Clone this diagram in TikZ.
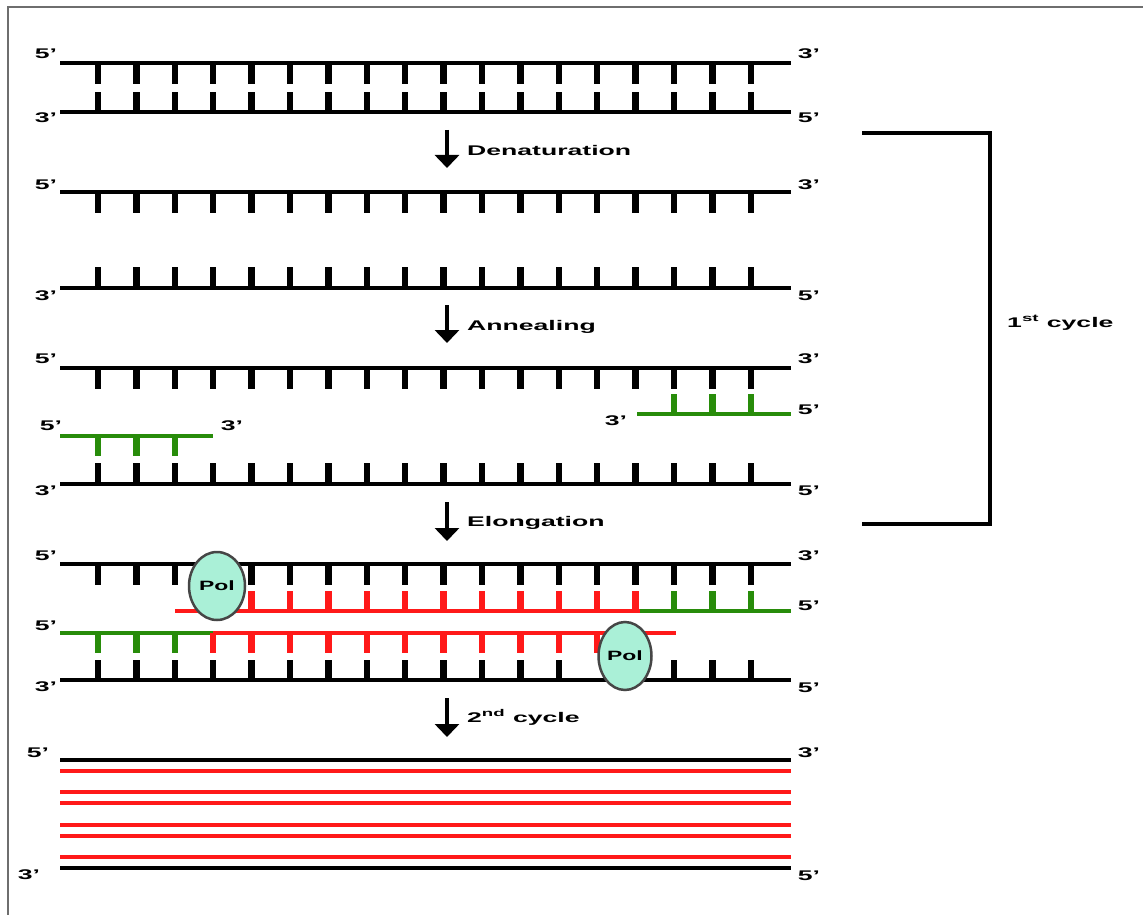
\documentclass[tikz,border=0pt]{standalone}
\usepackage{fontspec}
\setmainfont{Liberation Sans}
\usetikzlibrary{arrows.meta,shapes.geometric}
\definecolor{pgreen}{RGB}{40,140,10}
\definecolor{pred}{RGB}{255,25,25}
\definecolor{polfill}{RGB}{170,240,215}
\definecolor{polline}{RGB}{70,70,70}
\definecolor{framegray}{RGB}{110,110,110}
\newcommand\stxt[1]{\scalebox{1.9}[1]{\bfseries #1}}
\newcommand\ptxt[1]{\scalebox{1.7}[1]{\bfseries #1}}
\begin{document}
\begin{tikzpicture}[x=1pt,y=-1pt,
  strand/.style={line width=4pt},
  tk/.style={line width=6.5pt},
  lbl/.style={font=\fontsize{14}{16}\selectfont, inner sep=0pt, anchor=base},
  steplbl/.style={lbl, anchor=base west},
  arr/.style={line width=3.2pt, -{Triangle[width=24pt,length=13pt]}},
  pol/.style={ellipse, draw=polline, line width=2.5pt, fill=polfill,
    minimum width=56pt, minimum height=68pt, inner sep=0pt,
    font=\fontsize{13.5}{15}\selectfont}
]
\useasboundingbox (0,0) rectangle (1143,915);
% frame
\draw[framegray, line width=1.5pt] (8,915) -- (8,7) -- (1143,7);

% ---------- Row 1: double strand ----------
\draw[strand] (60,63) -- (791,63);
\draw[strand] (60,112) -- (791,112);
\foreach \k in {0,...,17}{
  \draw[tk] ({98+38.4*\k},63) -- ++(0,21);
  \draw[tk] ({98+38.4*\k},112) -- ++(0,-20);
}
\node[lbl] (r1a) at (46,59) {\stxt{5'}};
\node[lbl] (r1b) at (46,123) {\stxt{3'}};
\node[lbl] (r1c) at (809,59) {\stxt{3'}};
\node[lbl] (r1d) at (809,123) {\stxt{5'}};

\coordinate (a1s) at (447,130); \coordinate (a1e) at (447,168);
\draw[arr] (a1s) -- (a1e);
\node[steplbl] (den) at (467,156) {\stxt{Denaturation}};

% ---------- Row 2: separated ----------
\draw[strand] (60,192) -- (791,192);
\draw[strand] (60,288) -- (791,288);
\foreach \k in {0,...,17}{
  \draw[tk] ({98+38.4*\k},192) -- ++(0,21);
  \draw[tk] ({98+38.4*\k},288) -- ++(0,-21);
}
\node[lbl] (r2a) at (46,189) {\stxt{5'}};
\node[lbl] (r2b) at (46,300) {\stxt{3'}};
\node[lbl] (r2c) at (809,189) {\stxt{3'}};
\node[lbl] (r2d) at (809,300) {\stxt{5'}};

\coordinate (a2s) at (447,305); \coordinate (a2e) at (447,343);
\draw[arr] (a2s) -- (a2e);
\node[steplbl] (ann) at (467,330) {\stxt{Annealing}};

% ---------- Row 3: annealing ----------
\draw[strand] (60,368) -- (791,368);
\foreach \k in {0,...,17}{
  \draw[tk] ({98+38.4*\k},368) -- ++(0,21);
  \draw[tk] ({98+38.4*\k},484) -- ++(0,-21);
}
\draw[strand] (60,484) -- (791,484);
% right primer
\draw[strand,pgreen] (637,414) -- (791,414);
\foreach \k in {15,16,17}{ \draw[tk,pgreen] ({98+38.4*\k},414) -- ++(0,-20); }
% left primer
\draw[strand,pgreen] (60,436) -- (213,436);
\foreach \k in {0,1,2}{ \draw[tk,pgreen] ({98+38.4*\k},436) -- ++(0,20); }
\node[lbl] (r3a) at (46,363) {\stxt{5'}};
\node[lbl] (r3c) at (809,363) {\stxt{3'}};
\node[lbl] (r3e) at (616,425) {\stxt{3'}};
\node[lbl] (r3f) at (809,414) {\stxt{5'}};
\node[lbl] (r3g) at (51,430) {\stxt{5'}};
\node[lbl] (r3h) at (232,430) {\stxt{3'}};
\node[lbl] (r3b) at (46,495) {\stxt{3'}};
\node[lbl] (r3d) at (809,495) {\stxt{5'}};

\coordinate (a3s) at (447,502); \coordinate (a3e) at (447,541);
\draw[arr] (a3s) -- (a3e);
\node[steplbl] (elo) at (467,526) {\stxt{Elongation}};

% bracket
\coordinate (bt) at (862,133); \coordinate (bb) at (862,524);
\draw[line width=3.5pt] (bt) -| (990,524) -- (bb);
\node[steplbl] (cyc1) at (1007,327) {\stxt{1\textsuperscript{st} cycle}};

% ---------- Row 4: elongation ----------
\draw[strand] (60,564) -- (791,564);
\foreach \k in {0,...,17}{ \draw[tk] ({98+38.4*\k},564) -- ++(0,21); }
% upper new strand
\draw[strand,pred] (175,611) -- (640,611);
\foreach \k in {4,...,14}{ \draw[tk,pred] ({98+38.4*\k},611) -- ++(0,-20); }
\draw[strand,pgreen] (640,611) -- (791,611);
\foreach \k in {15,16,17}{ \draw[tk,pgreen] ({98+38.4*\k},611) -- ++(0,-20); }
% lower new strand
\draw[strand,pgreen] (60,633) -- (213,633);
\foreach \k in {0,1,2}{ \draw[tk,pgreen] ({98+38.4*\k},633) -- ++(0,20); }
\draw[strand,pred] (213,633) -- (676,633);
\foreach \k in {3,...,14}{ \draw[tk,pred] ({98+38.4*\k},633) -- ++(0,20); }
% bottom template
\draw[strand] (60,680) -- (791,680);
\foreach \k in {0,...,12,15,16,17}{ \draw[tk] ({98+38.4*\k},680) -- ++(0,-20); }
\node[pol] (pol1) at (217,586) {\ptxt{Pol}};
\node[pol, minimum width=53pt] (pol2) at (625,656) {\ptxt{Pol}};
\node[lbl] (r4a) at (46,560) {\stxt{5'}};
\node[lbl] (r4c) at (809,560) {\stxt{3'}};
\node[lbl] (r4f) at (809,610) {\stxt{5'}};
\node[lbl] (r4g) at (46,630) {\stxt{5'}};
\node[lbl] (r4b) at (46,691) {\stxt{3'}};
\node[lbl] (r4d) at (809,692) {\stxt{5'}};

\coordinate (a4s) at (447,698); \coordinate (a4e) at (447,737);
\draw[arr] (a4s) -- (a4e);
\node[steplbl] (cyc2) at (467,722) {\stxt{2\textsuperscript{nd} cycle}};

% ---------- Row 5: products ----------
\draw[strand] (60,760) -- (791,760);
\foreach \y in {771,792,803,825,836,857}{ \draw[strand,pred] (60,\y) -- (791,\y); }
\draw[strand] (60,868) -- (791,868);
\node[lbl] (r5a) at (38,757) {\stxt{5'}};
\node[lbl] (r5b) at (29,879) {\stxt{3'}};
\node[lbl] (r5c) at (809,757) {\stxt{3'}};
\node[lbl] (r5d) at (809,880) {\stxt{5'}};
\end{tikzpicture}
\end{document}
